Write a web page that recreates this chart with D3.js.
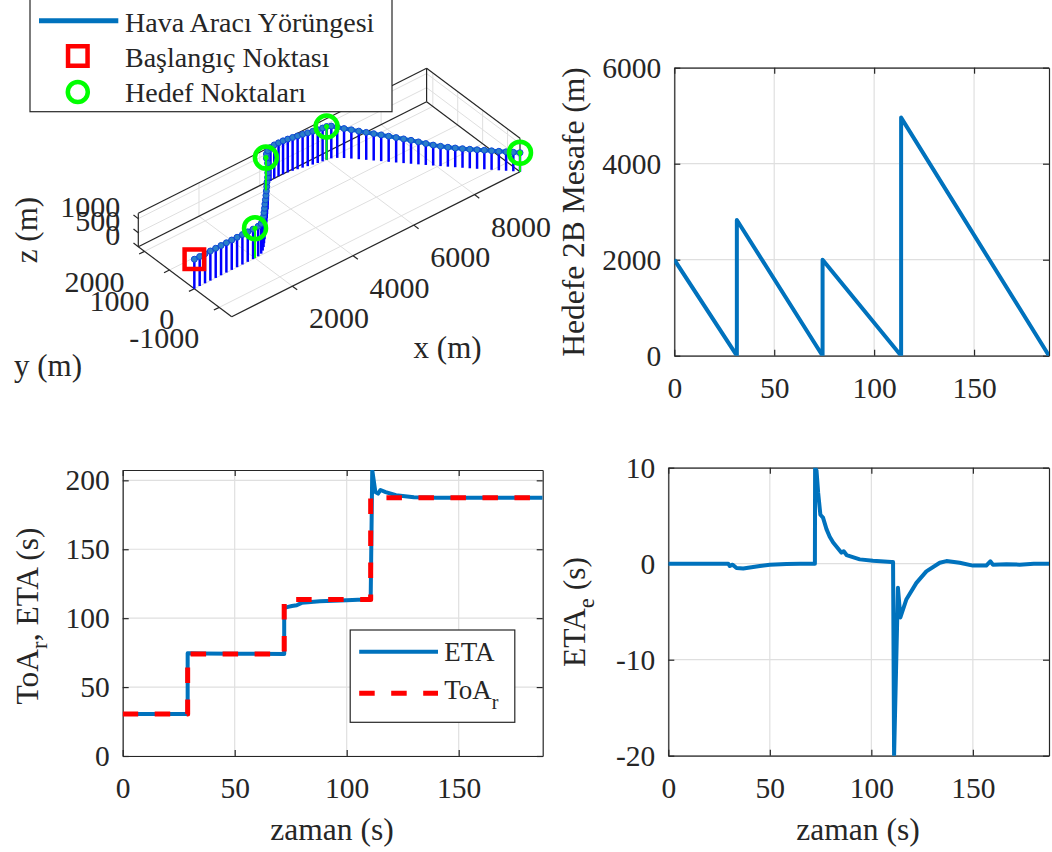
<!DOCTYPE html>
<html>
<head>
<meta charset="utf-8">
<script src="https://cdn.jsdelivr.net/npm/d3@7/dist/d3.min.js"></script>
<style>
  body { margin: 0; background: #fff; }
  text { font-family: "Liberation Serif", "Times New Roman", serif; fill: #262626; }
</style>
</head>
<body>
<svg id="fig" width="1052" height="852"></svg>
<script>
// ---------- data ----------
// aircraft trajectory samples (m)
var trajX = [0, 176, 352, 528, 704, 880, 1056, 1232, 1408, 1584, 1760, 1936,
  2110, 2240, 2350, 2460, 2570, 2685, 2800, 2920, 3040, 3160, 3280, 3400, 3530, 3650, 3770, 3890, 3995,
  4100, 4210, 4340, 4480, 4620, 4760, 4900, 5040, 5180, 5320, 5460, 5600, 5740, 5880, 6000,
  6130, 6260, 6390, 6520, 6650, 6780, 6910, 7040, 7170, 7300, 7430, 7560, 7690, 7820, 7950, 8080,
  8210, 8340, 8470, 8600, 8730, 8860, 8990, 9120, 9250, 9380, 9500];
var trajY = [0, 0, 0, 0, 0, 0, 0, 0, 0, 0, 0, 0,
  8, 45, 120, 220, 335, 455, 580, 705, 830, 960, 1090, 1225, 1360, 1500, 1640, 1800, 1975,
  2100, 2180, 2230, 2250, 2248, 2238, 2220, 2195, 2165, 2135, 2100, 2070, 2040, 2015, 2000,
  1970, 1890, 1775, 1640, 1500, 1360, 1218, 1076, 934, 792, 652, 512, 373, 235, 97, -40,
  -176, -312, -447, -581, -715, -848, -981, -1114, -1246, -1378, -1500];
var trajZ = [1050, 1052, 1054, 1056, 1058, 1060, 1062, 1064, 1066, 1067, 1068, 1069,
  1072, 1076, 1082, 1088, 1094, 1100, 1106, 1112, 1118, 1124, 1130, 1136, 1142, 1148, 1154, 1160, 1164,
  1172, 1180, 1186, 1190, 1190, 1190, 1189, 1188, 1187, 1187, 1186, 1186, 1186, 1186, 1186,
  1150, 1090, 1050, 1025, 1000, 978, 955, 935, 912, 888, 862, 835, 800, 762, 728, 706,
  692, 684, 680, 678, 677, 677, 676, 676, 676, 677, 677];
var startPt = [0, 0, 1050];
var wpX = [2000, 4000, 6000, 9500];
var wpY = [0, 2000, 2000, -1500];
var wpZ = [1070, 1165, 1186, 677];
var xTicks3 = [2000, 4000, 6000, 8000];
var yTicks3 = [-1000, 0, 1000, 2000];
var zTicks3 = [0, 500, 1000];

// 2D distance to target (m)
var distT = [0, 31.3, 31.3, 74.2, 74.2, 113.5, 113.5, 187.5];
var distV = [2000, 0, 2828, 0, 2000, 0, 4960, 0];

// reference time of arrival and ETA (s)
var toaT = [0, 29.0, 29.0, 72.1, 72.1, 110.7, 110.7, 187.5];
var toaV = [30.4, 30.4, 74, 74, 113.5, 113.5, 187.3, 187.3];
var etaT = [0, 29.0, 29.0, 29.6, 35, 50, 72.1, 72.1, 73.0, 73.9, 75.5, 77.7, 79.9, 84, 88, 94, 100, 105,
  110.7, 111.4, 112.8, 114.0, 115.1, 117.4, 122, 130, 140, 160, 187.5];
var etaV = [30.4, 30.4, 74.5, 74.6, 74.4, 74.2, 74.0, 107.2, 107.8, 108.2, 108.8, 109.4, 111.1, 111.8, 112.3, 112.7, 113.0, 113.3,
  113.5, 207.5, 191.5, 190.4, 193.0, 191.5, 189.2, 187.8, 187.4, 187.4, 187.3];

// ETA error (s)
var errT = [0, 29.5, 30.3, 31.7, 33.6, 36.9, 45.1, 50, 58.2, 65, 72.2, 72.3, 73.0, 73.8, 74.9, 76.2, 77.9, 79.5,
  81.2, 85.3, 86.4, 87.8, 94.3, 100.8, 109.9, 110.7, 111.2, 113.1, 114.3, 117.3, 122.2, 127.1, 133.7, 137,
  143.5, 150, 156.6, 158.6, 159.9, 166.5, 173, 180, 187.5];
var errV = [0, 0, -0.24, -0.1, -0.45, -0.5, -0.25, -0.12, -0.03, 0, 0, 10, 9.7, 7.4, 5.1, 4.8, 3.6, 2.8,
  2.2, 1.15, 1.3, 0.9, 0.45, 0.3, 0.17, 0.17, -20, -2.5, -5.6, -3.7, -2.0, -0.8, 0.1, 0.27,
  0.1, -0.2, -0.2, 0.25, -0.1, -0.05, -0.1, 0, 0];

var timeTicks = [0, 50, 100, 150];
var distTicks = [0, 2000, 4000, 6000];
var etaTicks = [0, 50, 100, 150, 200];
var errTicks = [-20, -10, 0, 10];

// ---------- helpers ----------
var svg = d3.select('#fig');
var defs = svg.append('defs');
var axisCol = '#262626', gridCol = '#dfdfdf', lineBlue = '#0072bd';

function panel(id, box, xDom, yDom, xTicks, yTicks) {
  var x = d3.scaleLinear().domain(xDom).range([box.l, box.r]);
  var y = d3.scaleLinear().domain(yDom).range([box.b, box.t]);
  var g = svg.append('g');
  g.selectAll(null).data(xTicks).enter().append('line')
    .attr('x1', function(d) { return x(d); }).attr('x2', function(d) { return x(d); })
    .attr('y1', box.t).attr('y2', box.b)
    .attr('stroke', gridCol).attr('stroke-width', 1.2);
  g.selectAll(null).data(yTicks).enter().append('line')
    .attr('x1', box.l).attr('x2', box.r)
    .attr('y1', function(d) { return y(d); }).attr('y2', function(d) { return y(d); })
    .attr('stroke', gridCol).attr('stroke-width', 1.2);
  var fmt = function(d) { return String(d); };
  var axes = [
    [d3.axisBottom(x).tickValues(xTicks).tickFormat(fmt).tickPadding(21), 'translate(0,' + box.b + ')'],
    [d3.axisTop(x).tickValues(xTicks).tickFormat(''), 'translate(0,' + box.t + ')'],
    [d3.axisLeft(y).tickValues(yTicks).tickFormat(fmt).tickPadding(13), 'translate(' + box.l + ',0)'],
    [d3.axisRight(y).tickValues(yTicks).tickFormat(''), 'translate(' + box.r + ',0)']
  ];
  axes.forEach(function(a) {
    var ax = g.append('g').attr('transform', a[1]).call(a[0].tickSizeInner(-6).tickSizeOuter(0));
    ax.attr('font-family', null).attr('font-size', 29.5);
    ax.select('.domain').attr('stroke', axisCol).attr('stroke-width', 1.2);
    ax.selectAll('.tick line').attr('stroke', axisCol).attr('stroke-width', 1.2);
    ax.selectAll('.tick text').attr('fill', axisCol);
  });
  defs.append('clipPath').attr('id', id).append('rect')
    .attr('x', box.l).attr('y', box.t).attr('width', box.r - box.l).attr('height', box.b - box.t);
  var plot = svg.append('g').attr('clip-path', 'url(#' + id + ')');
  return { x: x, y: y, plot: plot };
}

function drawSeries(p, ts, vs, color, width, dash) {
  var pts = ts.map(function(t, i) { return [t, vs[i]]; });
  p.plot.append('path').datum(pts)
    .attr('d', d3.line().x(function(d) { return p.x(d[0]); }).y(function(d) { return p.y(d[1]); }))
    .attr('fill', 'none').attr('stroke', color).attr('stroke-width', width)
    .attr('stroke-linejoin', 'round')
    .attr('stroke-dasharray', dash || null);
}

// parts: plain strings, or {lo: '...'} for a subscript
function label(x, y, rot, size, parts) {
  var t = svg.append('text')
    .attr('transform', 'translate(' + x + ',' + y + ')' + (rot ? ' rotate(' + rot + ')' : ''))
    .attr('text-anchor', 'middle').attr('dominant-baseline', 'central')
    .attr('font-size', size);
  var shift = 0;
  parts.forEach(function(p) {
    var isSub = typeof p !== 'string';
    var ts = t.append('tspan').attr('dy', isSub ? size * 0.38 : -shift).text(isSub ? p.lo : p);
    if (isSub) ts.attr('font-size', size * 0.72);
    shift = isSub ? size * 0.38 : 0;
  });
  return t;
}

// ---------- 3D trajectory ----------
var x3 = d3.scaleLinear().domain([0, 9500]).range([0, 1]);
var y3 = d3.scaleLinear().domain([-1500, 2250]).range([0, 1]);
var z3 = d3.scaleLinear().domain([0, 1190]).range([0, 1]);
var org = [231.7, 316.7], ex = [288.3, -145], ey = [-93.4, -70], ez = [0, -33.4];
function proj(x, y, z) {
  var a = x3(x), b = y3(y), c = z3(z);
  return [org[0] + a * ex[0] + b * ey[0] + c * ez[0], org[1] + a * ex[1] + b * ey[1] + c * ez[1]];
}
var X0 = x3.domain()[0], X1 = x3.domain()[1], Y0 = y3.domain()[0], Y1 = y3.domain()[1], Z1 = z3.domain()[1];

var g3 = svg.append('g');
function seg3(a, b, col, w) {
  var p = proj(a[0], a[1], a[2]), q = proj(b[0], b[1], b[2]);
  g3.append('line').attr('x1', p[0]).attr('y1', p[1]).attr('x2', q[0]).attr('y2', q[1])
    .attr('stroke', col).attr('stroke-width', w);
}

// grid on floor and back walls
xTicks3.forEach(function(v) {
  seg3([v, Y0, 0], [v, Y1, 0], gridCol, 1);
  seg3([v, Y1, 0], [v, Y1, Z1], gridCol, 1);
});
yTicks3.forEach(function(v) {
  seg3([X0, v, 0], [X1, v, 0], gridCol, 1);
  seg3([X1, v, 0], [X1, v, Z1], gridCol, 1);
});
zTicks3.slice(1).forEach(function(v) {
  seg3([X0, Y1, v], [X1, Y1, v], gridCol, 1);
  seg3([X1, Y0, v], [X1, Y1, v], gridCol, 1);
});

// back box edges
[[[X0, Y0, 0], [X1, Y0, 0]], [[X0, Y0, 0], [X0, Y1, 0]], [[X0, Y1, 0], [X1, Y1, 0]],
 [[X1, Y1, 0], [X1, Y0, 0]], [[X0, Y1, 0], [X0, Y1, Z1]], [[X1, Y1, 0], [X1, Y1, Z1]],
 [[X1, Y0, 0], [X1, Y0, Z1]], [[X0, Y1, Z1], [X1, Y1, Z1]], [[X1, Y1, Z1], [X1, Y0, Z1]]]
  .forEach(function(e) { seg3(e[0], e[1], axisCol, 1.2); });

// ticks and tick labels
xTicks3.forEach(function(v) {
  var p = proj(v, Y0, 0);
  g3.append('line').attr('x1', p[0]).attr('y1', p[1]).attr('x2', p[0] + 4.8).attr('y2', p[1] + 3.6)
    .attr('stroke', axisCol).attr('stroke-width', 1.2);
  g3.append('text').attr('x', p[0] + 46.5).attr('y', p[1] + 31.5)
    .attr('text-anchor', 'middle').attr('dominant-baseline', 'central').attr('font-size', 30).text(v);
});
yTicks3.forEach(function(v) {
  var p = proj(X0, v, 0);
  g3.append('line').attr('x1', p[0]).attr('y1', p[1]).attr('x2', p[0] - 5.4).attr('y2', p[1] + 2.7)
    .attr('stroke', axisCol).attr('stroke-width', 1.2);
  g3.append('text').attr('x', p[0] - 20).attr('y', p[1] + 30)
    .attr('text-anchor', 'end').attr('dominant-baseline', 'central').attr('font-size', 30).text(v);
});
zTicks3.forEach(function(v) {
  var p = proj(X0, Y1, v);
  g3.append('line').attr('x1', p[0]).attr('y1', p[1]).attr('x2', p[0] - 4.8).attr('y2', p[1] - 3.6)
    .attr('stroke', axisCol).attr('stroke-width', 1.2);
  g3.append('text').attr('x', p[0] - 18).attr('y', p[1] - 12)
    .attr('text-anchor', 'end').attr('dominant-baseline', 'central').attr('font-size', 30).text(v);
});

// stems
var traj = trajX.map(function(v, i) { return [v, trajY[i], trajZ[i]]; });
traj.forEach(function(d) { seg3(d, [d[0], d[1], 0], '#0000ff', 2.5); });

// path
g3.append('path').datum(traj)
  .attr('d', d3.line().x(function(d) { return proj(d[0], d[1], d[2])[0]; })
    .y(function(d) { return proj(d[0], d[1], d[2])[1]; }))
  .attr('fill', 'none').attr('stroke', lineBlue).attr('stroke-width', 4).attr('stroke-linejoin', 'round');
traj.forEach(function(d) {
  var p = proj(d[0], d[1], d[2]);
  g3.append('circle').attr('cx', p[0]).attr('cy', p[1]).attr('r', 3)
    .attr('fill', '#2a7fc9').attr('stroke', '#1048d8').attr('stroke-width', 1);
});

// target points
wpX.forEach(function(v, i) {
  seg3([v, wpY[i], wpZ[i]], [v, wpY[i], 0], '#00ff00', 2);
});
wpX.forEach(function(v, i) {
  var p = proj(v, wpY[i], wpZ[i]);
  g3.append('circle').attr('cx', p[0]).attr('cy', p[1]).attr('r', 11)
    .attr('fill', 'none').attr('stroke', '#00ff00').attr('stroke-width', 4.5);
  g3.append('circle').attr('cx', p[0]).attr('cy', p[1]).attr('r', 2.5).attr('fill', '#00ff00');
});
var sp = proj(startPt[0], startPt[1], startPt[2]);
g3.append('rect').attr('x', sp[0] - 9.75).attr('y', sp[1] - 9.75).attr('width', 19.5).attr('height', 19.5)
  .attr('fill', 'none').attr('stroke', '#ff0000').attr('stroke-width', 4.5);

label(25.8, 230, -90, 31, ['z (m)']);
label(48, 365, 0, 31, ['y (m)']);
label(447.6, 346.7, 0, 31, ['x (m)']);

// legend of 3D plot
var lg = svg.append('g');
lg.append('rect').attr('x', 30).attr('y', -2).attr('width', 362).attr('height', 113.7)
  .attr('fill', '#fff').attr('stroke', axisCol).attr('stroke-width', 1.2);
lg.append('line').attr('x1', 39).attr('x2', 118.3).attr('y1', 20.7).attr('y2', 20.7)
  .attr('stroke', lineBlue).attr('stroke-width', 5);
lg.append('rect').attr('x', 77.8 - 9.75).attr('y', 56 - 9.75).attr('width', 19.5).attr('height', 19.5)
  .attr('fill', 'none').attr('stroke', '#ff0000').attr('stroke-width', 4.5);
lg.append('circle').attr('cx', 77.8).attr('cy', 92).attr('r', 10).attr('fill', 'none')
  .attr('stroke', '#00ff00').attr('stroke-width', 4.5);
['Hava Aracı Yörüngesi', 'Başlangıç Noktası', 'Hedef Noktaları'].forEach(function(s, i) {
  lg.append('text').attr('x', 125).attr('y', 31.7 + i * 35).attr('font-size', 28).text(s);
});

// ---------- distance to target ----------
var pDist = panel('clipDist', { l: 674.3, r: 1049, t: 67.7, b: 355.7 }, [0, 187.5], [0, 6000], timeTicks, distTicks);
drawSeries(pDist, distT, distV, lineBlue, 4);
label(572.5, 212, -90, 31.5, ['Hedefe 2B Mesafe (m)']);

// ---------- ToA / ETA ----------
var pEta = panel('clipEta', { l: 122.7, r: 542.7, t: 470, b: 756 }, [0, 187.5], [0, 207.5], timeTicks, etaTicks);
drawSeries(pEta, etaT, etaV, lineBlue, 4);
drawSeries(pEta, toaT, toaV, '#ff0000', 5, '15.5,16.5');
label(27, 616, -90, 31.5, ['ToA', { lo: 'r' }, ', ETA (s)']);
label(332, 829, 0, 31.5, ['zaman (s)']);

var lg2 = svg.append('g');
lg2.append('rect').attr('x', 350.2).attr('y', 630).attr('width', 164.6).attr('height', 92.3)
  .attr('fill', '#fff').attr('stroke', axisCol).attr('stroke-width', 1.2);
lg2.append('line').attr('x1', 359.2).attr('x2', 438).attr('y1', 651.7).attr('y2', 651.7)
  .attr('stroke', lineBlue).attr('stroke-width', 4);
lg2.append('line').attr('x1', 359.2).attr('x2', 438).attr('y1', 693.3).attr('y2', 693.3)
  .attr('stroke', '#ff0000').attr('stroke-width', 5).attr('stroke-dasharray', '15.5,16.5');
lg2.append('text').attr('x', 444.2).attr('y', 652).attr('dominant-baseline', 'central')
  .attr('font-size', 27).text('ETA');
var tr = lg2.append('text').attr('x', 444.2).attr('y', 690).attr('dominant-baseline', 'central')
  .attr('font-size', 27);
tr.append('tspan').text('ToA');
tr.append('tspan').attr('font-size', 20).attr('dy', 12).text('r');

// ---------- ETA error ----------
var pErr = panel('clipErr', { l: 668.3, r: 1049, t: 467.7, b: 755.7 }, [0, 187.5], [-20, 10], timeTicks, errTicks);
drawSeries(pErr, errT, errV, lineBlue, 4);
label(574, 612, -90, 31.5, ['ETA', { lo: 'e' }, ' (s)']);
label(858, 829, 0, 31.5, ['zaman (s)']);
</script>
</body>
</html>
